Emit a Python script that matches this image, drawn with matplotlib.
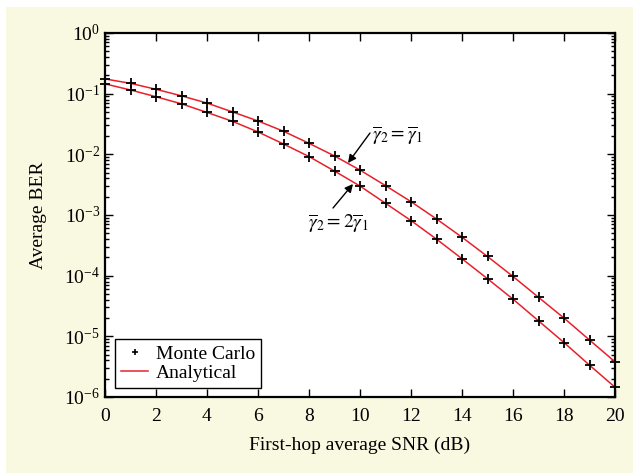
import matplotlib
matplotlib.use("Agg")
import matplotlib.pyplot as plt
from matplotlib.patches import Rectangle
from matplotlib.ticker import LogLocator, NullFormatter

plt.rcParams["font.family"] = ["Liberation Serif", "DejaVu Serif"]
plt.rcParams["mathtext.fontset"] = "stix"

# First-hop average SNR (dB)
snr_db = list(range(0, 21))

# gamma2 = gamma1
ber_equal = [0.175, 0.148, 0.118, 0.092, 0.070, 0.050, 0.0355, 0.024, 0.0152, 0.0094,
             0.0055, 0.00305, 0.00166, 0.00086, 0.00043, 0.000207, 9.7e-5, 4.4e-5,
             2.0e-5, 8.7e-6, 3.8e-6]
# gamma2 = 2 gamma1
ber_double = [0.145, 0.115, 0.089, 0.068, 0.049, 0.035, 0.0234, 0.0148, 0.0092, 0.0053,
              0.0030, 0.00156, 0.00081, 0.00040, 0.00019, 8.9e-5, 4.1e-5, 1.8e-5,
              7.9e-6, 3.35e-6, 1.45e-6]

xticks = list(range(0, 21, 2))

fig = plt.figure(figsize=(6.33, 4.73), dpi=100)
fig.patches.append(Rectangle((6 / 633, 0), 1, 1 - 7 / 473, transform=fig.transFigure,
                             facecolor="#f9f8e1", edgecolor="none", zorder=-10))
ax = fig.add_axes([105 / 633, 1 - 397 / 473, 510 / 633, 364 / 473])

for ber in (ber_equal, ber_double):
    ax.semilogy(snr_db, ber, color="#e8202a", lw=1.1, zorder=2)
    ax.semilogy(snr_db, ber, ls="none", marker="+", ms=7, mew=1.3, color="black",
                zorder=3, clip_on=False)

ax.plot([], [], ls="none", marker="+", ms=5, mew=1.2, color="black", label="Monte Carlo")
ax.plot([], [], color="#e8202a", lw=1.1, label="Analytical")

ax.set_xlim(0, 20)
ax.set_ylim(1e-6, 1)
ax.set_xticks(xticks)
ax.yaxis.set_major_locator(LogLocator(base=10, numticks=10))
ax.yaxis.set_minor_locator(LogLocator(base=10, subs=range(2, 10), numticks=20))
ax.yaxis.set_minor_formatter(NullFormatter())
ax.tick_params(which="both", direction="in", top=True, right=True, labelsize=14, width=1.0)
ax.tick_params(which="major", length=6)
ax.tick_params(which="minor", length=3)
ax.tick_params(axis="x", pad=8)
for s in ax.spines.values():
    s.set_linewidth(1.6)

ax.set_xlabel("First-hop average SNR (dB)", fontsize=14, labelpad=8)
ax.set_ylabel("Average BER", fontsize=14, labelpad=12)

# labels and arrows
fig.text(397 / 633, 1 - 136 / 473, r"$\overline{\gamma}_2=\overline{\gamma}_1$",
         fontsize=14, ha="center", va="center")
fig.text(338 / 633, 1 - 224 / 473, r"$\overline{\gamma}_2=2\overline{\gamma}_1$",
         fontsize=14, ha="center", va="center")
arrow = dict(arrowstyle="-|>", color="black", lw=1.0, shrinkA=0, shrinkB=0, mutation_scale=12)
ax.annotate("", xy=(348, 473 - 163), xycoords="figure pixels",
            xytext=(370, 473 - 133), textcoords="figure pixels", arrowprops=arrow)
ax.annotate("", xy=(353, 473 - 184), xycoords="figure pixels",
            xytext=(333, 473 - 208), textcoords="figure pixels", arrowprops=arrow)

leg = ax.legend(loc="lower left", bbox_to_anchor=(0.02, 0.025), fontsize=14, fancybox=False,
                framealpha=1, edgecolor="black", borderpad=0.3, handlelength=1.4,
                handletextpad=0.4, labelspacing=0.1, borderaxespad=0)
leg.get_frame().set_linewidth(1.0)

fig.savefig("out.png", dpi=100)
